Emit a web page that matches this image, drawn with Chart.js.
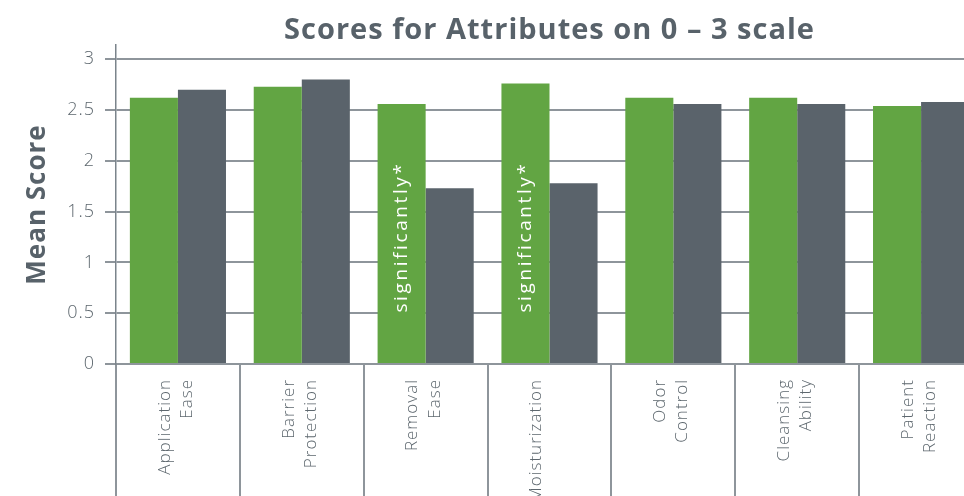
<!DOCTYPE html>
<html>
<head>
<meta charset="utf-8">
<script src="https://cdn.jsdelivr.net/npm/chart.js@4.4.1/dist/chart.umd.min.js"></script>
<style>
  html, body { margin: 0; padding: 0; background: #fff; overflow: hidden; }
  #wrap { position: relative; width: 983px; height: 496px; }
</style>
</head>
<body>
<div id="wrap"><canvas id="scoreChart"></canvas></div>
<script>
// categories (two-line labels where the original wraps)
const attributes = [
  ['Application', 'Ease'],
  ['Barrier', 'Protection'],
  ['Removal', 'Ease'],
  ['Moisturization'],
  ['Odor', 'Control'],
  ['Cleansing', 'Ability'],
  ['Patient', 'Reaction']
];
// green bars
const productScores = [2.62, 2.73, 2.56, 2.76, 2.62, 2.62, 2.54];
// gray bars
const comparatorScores = [2.70, 2.80, 1.73, 1.78, 2.56, 2.56, 2.58];
// y axis ticks
const yTicks = [0, 0.5, 1, 1.5, 2, 2.5, 3];
// which green bars get the "significantly*" note
const significant = [false, false, true, true, false, false, false];

const gridGray = '#8e959b';
const textGray = '#5d676e';

// the original type is tracked out a little, so space the letters
const tracking = {
  id: 'tracking',
  beforeUpdate(chart) { chart.ctx.letterSpacing = '1px'; },
  beforeDraw(chart) { chart.ctx.letterSpacing = '1px'; }
};

// white rotated note inside the green bars
const sigNote = {
  id: 'sigNote',
  afterDatasetsDraw(chart) {
    const meta = chart.getDatasetMeta(0);
    const y = chart.scales.y.getPixelForValue(1.25);
    const ctx = chart.ctx;
    ctx.save();
    ctx.fillStyle = '#ffffff';
    ctx.font = '400 19px "Open Sans"';
    ctx.letterSpacing = '2.6px';
    ctx.textAlign = 'center';
    ctx.textBaseline = 'middle';
    meta.data.forEach(function (bar, i) {
      if (!significant[i]) return;
      ctx.save();
      ctx.translate(bar.x, y);
      ctx.rotate(-Math.PI / 2);
      ctx.fillText('significantly*', 0, 0);
      ctx.restore();
    });
    ctx.restore();
  }
};

new Chart(document.getElementById('scoreChart'), {
  type: 'bar',
  data: {
    labels: attributes,
    datasets: [{
      label: 'Product',
      data: productScores,
      backgroundColor: '#62a543',
      categoryPercentage: 0.776,
      barPercentage: 1
    },
    {
      label: 'Comparator',
      data: comparatorScores,
      backgroundColor: '#5a636b',
      categoryPercentage: 0.776,
      barPercentage: 1
    }]
  },
  options: {
    responsive: true,
    maintainAspectRatio: false,
    animation: false,
    layout: { padding: 0 },
    plugins: {
      legend: { display: false },
      tooltip: { enabled: false },
      title: {
        display: true,
        fullSize: false,
        text: 'Scores for Attributes on 0 – 3 scale',
        color: '#58626a',
        font: { family: 'Open Sans', size: 29, weight: 'bold', lineHeight: 1 },
        padding: { top: 16, bottom: 0 }
      }
    },
    scales: {
      x: {
        grid: { offset: true, drawOnChartArea: false, drawTicks: true, tickLength: 132, color: gridGray, lineWidth: 2 },
        border: { display: true, color: gridGray, width: 2 },
        ticks: {
          autoSkip: false,
          minRotation: 90,
          maxRotation: 90,
          padding: -117,
          labelOffset: -13,
          color: textGray,
          font: { family: 'Open Sans', size: 17, weight: 300, lineHeight: 1.3 }
        },
        afterFit: function (s) { s.height = 132; }
      },
      y: {
        min: 0,
        max: 3.14,
        afterBuildTicks: function (s) { s.ticks = yTicks.map(v => ({ value: v })); },
        grid: { color: gridGray, lineWidth: 2, tickLength: 11 },
        border: { display: true, color: '#7b848b', width: 1.5 },
        ticks: {
          padding: 10,
          color: textGray,
          font: { family: 'Open Sans', size: 18, weight: 300 },
          callback: function (v) { return String(v); }
        },
        title: {
          display: true,
          text: 'Mean Score',
          color: '#58626a',
          font: { family: 'Open Sans', size: 26, weight: 'bold', lineHeight: 1.2 },
          padding: { top: 22, bottom: 0 }
        },
        afterFit: function (s) { s.width = 116; }
      }
    }
  },
  plugins: [tracking, sigNote]
});
</script>
</body>
</html>
